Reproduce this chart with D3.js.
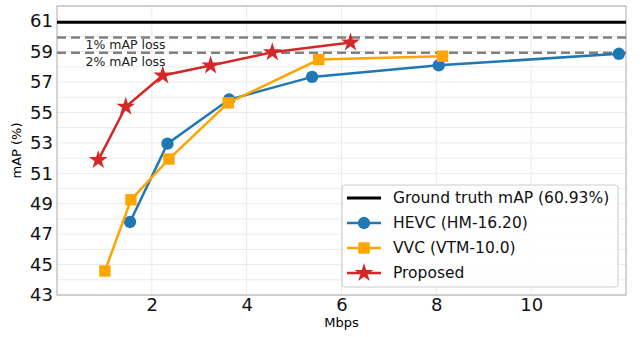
<!DOCTYPE html>
<html>
<meta charset="utf-8">
<script src="https://d3js.org/d3.v7.min.js"></script>
<style>
  body { margin: 0; background: #fff; }
  text { font-family: "DejaVu Sans", sans-serif; }
</style>
<body>
<div id="chart"></div>
<script>
    // data
    const hevcRate = [1.54, 2.33, 3.63, 5.38, 8.05, 11.85];
    const hevcMap  = [47.8, 52.95, 55.85, 57.34, 58.1, 58.86];
    const vvcRate  = [1.01, 1.56, 2.36, 3.61, 5.52, 8.13];
    const vvcMap   = [44.58, 49.26, 51.94, 55.63, 58.48, 58.7];
    const propRate = [0.87, 1.45, 2.23, 3.24, 4.54, 6.19];
    const propMap  = [51.87, 55.38, 57.43, 58.09, 58.96, 59.6];
    const groundTruth = 60.93;
    const lossLevels = [1, 2];
    const xTicks = [2, 4, 6, 8, 10];
    const yTicks = [43, 45, 47, 49, 51, 53, 55, 57, 59, 61];
    const yMinor = [44, 46, 48, 50, 52, 54, 56, 58, 60, 62];

    const margin = {top: 6, right: 15, bottom: 42, left: 57},
        width = 641 - margin.left - margin.right,
        height = 337 - margin.top - margin.bottom;

    const svg = d3.select("#chart").append("svg")
        .attr("width", 641).attr("height", 337)
      .append("g")
        .attr("transform", "translate(" + margin.left + "," + margin.top + ")");

    const x = d3.scaleLinear().domain([0, 12]).range([0, width]);
    const y = d3.scaleLinear().domain([43, 62]).range([height, 0]);

    // grid
    svg.selectAll(".ygrid").data(yTicks.concat(yMinor)).enter().append("line")
        .attr("x1", 0).attr("x2", width)
        .attr("y1", d => y(d)).attr("y2", d => y(d))
        .attr("stroke", "#ebebeb").attr("stroke-width", 1);
    svg.selectAll(".xgrid").data(xTicks).enter().append("line")
        .attr("x1", d => x(d)).attr("x2", d => x(d))
        .attr("y1", 0).attr("y2", height)
        .attr("stroke", "#ebebeb").attr("stroke-width", 1);

    // axes
    const xAxis = svg.append("g").attr("transform", "translate(0," + height + ")")
        .call(d3.axisBottom(x).tickValues(xTicks).tickSize(0).tickPadding(3));
    const yAxis = svg.append("g")
        .call(d3.axisLeft(y).tickValues(yTicks).tickSize(0).tickPadding(4));
    [xAxis, yAxis].forEach(a => {
      a.select(".domain").remove();
      a.selectAll("text").style("font-size", "18px").attr("fill", "#111")
        .style("font-family", "DejaVu Sans, sans-serif");
    });

    svg.append("rect").attr("width", width).attr("height", height)
        .attr("fill", "none").attr("stroke", "#aaa").attr("stroke-width", 1);

    svg.append("text").attr("x", width / 2).attr("y", height + 32)
        .attr("text-anchor", "middle").style("font-size", "13px").text("Mbps");
    svg.append("text").attr("transform", "rotate(-90)")
        .attr("x", -height / 2).attr("y", -36)
        .attr("text-anchor", "middle").style("font-size", "13px").text("mAP (%)");

    // reference lines
    svg.selectAll(".loss").data(lossLevels).enter().append("line")
        .attr("x1", 0).attr("x2", width)
        .attr("y1", d => y(groundTruth - d)).attr("y2", d => y(groundTruth - d))
        .attr("stroke", "#808080").attr("stroke-width", 2.5)
        .attr("stroke-dasharray", "9,5");
    svg.selectAll(".losslabel").data(lossLevels).enter().append("text")
        .attr("x", x(0.6)).attr("y", d => y(groundTruth - d) + 13)
        .attr("dy", d => d === 1 ? "-0.1em" : "0.05em")
        .style("font-size", "12.5px").attr("fill", "#222")
        .text(d => d + "% mAP loss");
    svg.append("line").attr("x1", 0).attr("x2", width)
        .attr("y1", y(groundTruth)).attr("y2", y(groundTruth))
        .attr("stroke", "#000").attr("stroke-width", 3);

    const series = [
      {name: "HEVC (HM-16.20)", rate: hevcRate, map: hevcMap, color: "#1f77b4", marker: "circle"},
      {name: "VVC (VTM-10.0)", rate: vvcRate, map: vvcMap, color: "#ffa500", marker: "square"},
      {name: "Proposed", rate: propRate, map: propMap, color: "#d62728", marker: "star"}
    ];
    const symbols = {
      circle: d3.symbol().type(d3.symbolCircle).size(120),
      square: d3.symbol().type(d3.symbolSquare).size(130),
      star: d3.symbol().type(d3.symbolStar).size(110)
    };
    const line = d3.line().x(d => x(d[0])).y(d => y(d[1]));

    series.forEach(s => {
      const pts = s.rate.map((r, i) => [r, s.map[i]]);
      svg.append("path").datum(pts).attr("d", line)
        .attr("fill", "none").attr("stroke", s.color).attr("stroke-width", 2.5);
      svg.selectAll(".m-" + s.marker).data(pts).enter().append("path")
        .attr("d", symbols[s.marker])
        .attr("transform", d => "translate(" + x(d[0]) + "," + y(d[1]) + ")")
        .attr("fill", s.color);
    });

    // legend
    const lg = svg.append("g").attr("transform", "translate(" + (342 - margin.left) + "," + (185 - margin.top) + ")");
    lg.append("rect").attr("width", 276).attr("height", 102).attr("rx", 3)
        .attr("fill", "rgba(255,255,255,0.85)").attr("stroke", "#ccc");
    const entries = [{name: "Ground truth mAP (60.93%)", color: "#000", marker: null}].concat(series);
    entries.forEach((e, i) => {
      const g = lg.append("g").attr("transform", "translate(5," + (13 + i * 25) + ")");
      g.append("line").attr("x1", 0).attr("x2", 34).attr("stroke", e.color)
        .attr("stroke-width", e.marker ? 2.5 : 3);
      if (e.marker) g.append("path").attr("d", symbols[e.marker])
        .attr("transform", "translate(17,0)").attr("fill", e.color);
      g.append("text").attr("x", 46).attr("dy", "0.35em")
        .style("font-size", "15.5px").attr("fill", "#111").text(e.name);
    });
</script>
</body>
</html>
